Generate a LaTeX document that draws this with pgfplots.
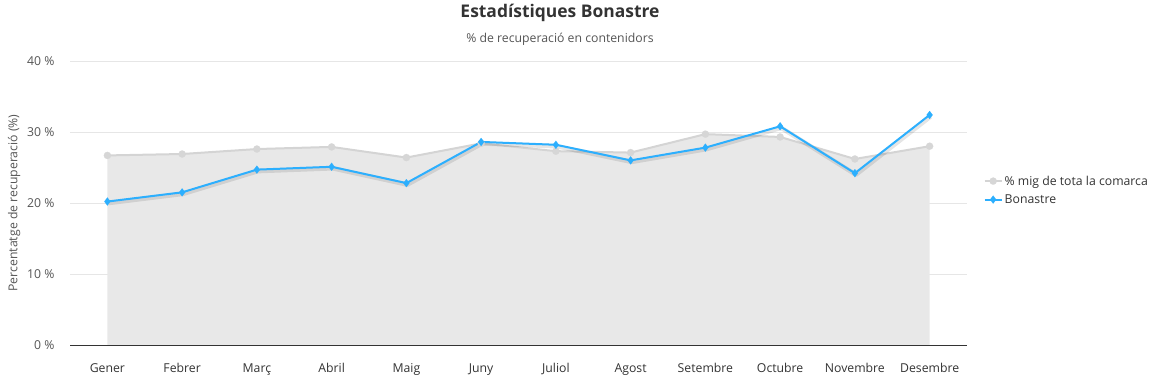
\documentclass[border=0pt]{standalone}
\usepackage{pgfplots}
\pgfplotsset{compat=1.18}
\usepackage{fontspec}
\setmainfont{Open Sans}
\definecolor{areafill}{HTML}{E8E8E8}
\definecolor{arealine}{HTML}{D4D4D4}
\definecolor{areamark}{HTML}{D6D6D6}
\definecolor{blueline}{HTML}{2CAFFE}
\definecolor{gridc}{HTML}{E6E6E6}
\definecolor{txt}{HTML}{333333}
\definecolor{tick}{HTML}{555555}
\pgfplotstableread{
x avg bon
0 26.7 20.2
1 26.9 21.5
2 27.6 24.7
3 27.9 25.1
4 26.4 22.8
5 28.4 28.6
6 27.3 28.2
7 27.1 26.0
8 29.7 27.8
9 29.3 30.8
10 26.2 24.2
11 28.0 32.4
}\datatable
\begin{document}
\begin{tikzpicture}[x=1bp,y=1bp]
\path (0,0) rectangle (1160,376);
\begin{axis}[
  at={(70bp,31bp)}, anchor=south west,
  scale only axis, width=897bp, height=284bp,
  xmin=-0.5, xmax=11.5, ymin=0, ymax=40,
  xtick={0,...,11},
  xticklabels={Gener,Febrer,Març,Abril,Maig,Juny,Juliol,Agost,Setembre,Octubre,Novembre,Desembre},
  ytick={0,10,20,30,40},
  yticklabel={\pgfmathprintnumber{\tick}~\%},
  /pgf/number format/assume math mode=true,
  ymajorgrids, grid style={gridc, line width=0.8bp},
  axis x line*=bottom, axis y line*=left,
  y axis line style={draw=none},
  x axis line style={txt, line width=0.8bp, -},
  major tick length=0pt,
  tick label style={font=\fontsize{12.3}{14}\selectfont, text=txt},
  xticklabel style={yshift=-15bp},
  yticklabel style={text=tick, xshift=-12bp},
  ylabel={Percentatge de recuperació (\%)},
  ylabel style={font=\fontsize{12.3}{14}\selectfont, text=tick},
  legend style={at={(1.015,0.545)}, anchor=west, draw=none, fill=none,
    font=\fontsize{12.3}{14}\selectfont, text=txt, row sep=4bp,
    legend cell align=left},
  clip=false,
  axis on top=false,
]
\addplot[fill=areafill, draw=none, forget plot] table[x=x,y=avg] {\datatable} \closedcycle;
\addplot[draw=arealine, line width=2bp, mark=*, mark size=3.6bp,
  mark options={fill=areamark, draw=areamark, line width=0.1bp}]
  table[x=x,y=avg] {\datatable};
\addlegendentry{\% mig de tota la comarca}
\addplot[draw=black, opacity=0.10, line width=4.5bp, forget plot, line join=round,
  transform canvas={xshift=1bp,yshift=-1.5bp}] table[x=x,y=bon] {\datatable};
\addplot[draw=blueline, line width=2bp, mark=diamond*, mark size=4bp,
  mark options={fill=blueline, draw=blueline, line width=0.1bp}]
  table[x=x,y=bon] {\datatable};
\addlegendentry{Bonastre}
\end{axis}
\node[font=\fontsize{17.5}{20}\selectfont\bfseries, text=txt] at (560,363) {Estadístiques Bonastre};
\node[font=\fontsize{12.3}{14}\selectfont, text=tick] at (560,337) {\% de recuperació en contenidors};
\end{tikzpicture}
\end{document}
